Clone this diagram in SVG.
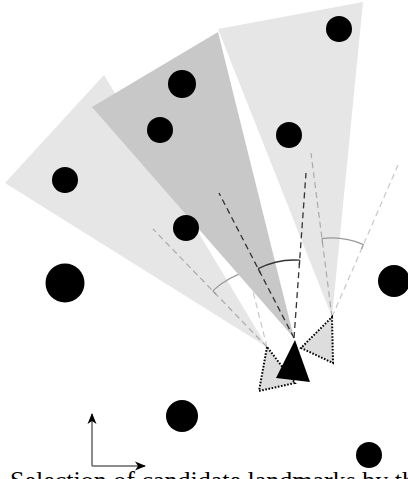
<svg xmlns="http://www.w3.org/2000/svg" width="408" height="479" viewBox="0 0 408 479">
<style>
.cone-l{fill:#e6e6e6}
.cone-d{fill:#c8c8c8}
.dot{fill:#000}
.dash-dark{stroke:#333;stroke-width:1.3;stroke-dasharray:6,4;fill:none}
.dash-mid{stroke:#aaa;stroke-width:1.2;stroke-dasharray:6,4;fill:none}
.dash-light{stroke:#c8c8c8;stroke-width:1.2;stroke-dasharray:6,4;fill:none}
.arc-dark{stroke:#333;stroke-width:1.3;fill:none}
.arc-mid{stroke:#999;stroke-width:1.2;fill:none}
.ghost{fill:#ddd;stroke:#000;stroke-width:2;stroke-dasharray:1.6,1.6}
.axis{stroke:#666;stroke-width:1.5;fill:none}
.caption{font-family:"Liberation Serif","Times New Roman",serif;font-size:26px;fill:#000}
</style>
<defs>
<marker id="tickd" markerWidth="10" markerHeight="10" refX="0" refY="0" viewBox="-5 -5 10 10" orient="auto" markerUnits="userSpaceOnUse"><path d="M0,0 L0,5" stroke="#333" stroke-width="1.3"/></marker>
<marker id="tickm" markerWidth="10" markerHeight="10" refX="0" refY="0" viewBox="-5 -5 10 10" orient="auto" markerUnits="userSpaceOnUse"><path d="M0,0 L0,5" stroke="#999" stroke-width="1.2"/></marker>
<marker id="arrow" markerWidth="12" markerHeight="10" refX="10" refY="0" viewBox="0 -5 12 10" orient="auto" markerUnits="userSpaceOnUse"><path d="M0,-4.5 L11,0 L0,4.5 L3,0 Z" fill="#000"/></marker>
</defs>

<g id="cone-left"><polygon class="cone-l" points="5,183 104,75 267,347"/></g>
<g id="annot-left">
<line class="dash-mid" x1="267" y1="347" x2="153" y2="229"/>
<line class="dash-light" x1="267" y1="347" x2="240" y2="240"/>
<path class="arc-mid" marker-start="url(#tickm)" d="M212.8,290.9 A78,78 0 0 1 248,271.3"/>
</g>
<g id="cone-main"><polygon class="cone-d" points="92,107 218,32 294,338"/></g>
<g id="cone-right"><polygon class="cone-l" points="218,29 363,2 332,317"/></g>

<g id="connectors">
<line class="dash-mid" x1="332" y1="317" x2="311" y2="153"/>
<line class="dash-light" x1="332" y1="317" x2="398" y2="165"/>
<path class="arc-mid" marker-start="url(#tickm)" marker-end="url(#tickm)" d="M322,238.6 A79,79 0 0 1 363.4,244.6"/>
<line class="dash-dark" x1="294" y1="338" x2="219" y2="193"/>
<line class="dash-dark" x1="294" y1="338" x2="306" y2="173"/>
<path class="arc-dark" marker-start="url(#tickd)" marker-end="url(#tickd)" d="M258.2,268.7 A78,78 0 0 1 299.7,260.2"/>
</g>

<g id="landmarks">
<circle class="dot" cx="339" cy="29" r="13"/>
<circle class="dot" cx="182" cy="84" r="14"/>
<circle class="dot" cx="160" cy="130" r="13"/>
<circle class="dot" cx="289" cy="135" r="13"/>
<circle class="dot" cx="65" cy="180" r="13"/>
<circle class="dot" cx="186" cy="228" r="13"/>
<circle class="dot" cx="65" cy="283" r="19.5"/>
<circle class="dot" cx="394" cy="281" r="16"/>
<circle class="dot" cx="182" cy="416" r="16"/>
<circle class="dot" cx="369" cy="455" r="13"/>
</g>

<g id="robot-ghost-left"><polygon class="ghost" points="267,347 259,391 295,383"/></g>
<g id="robot-ghost-right"><polygon class="ghost" points="332,317 333,363 301,348"/></g>
<g id="robot-main"><polygon fill="#000" points="295,340 276,378 310,382"/></g>

<g id="axes">
<path class="axis" d="M92,466 L92,414" marker-end="url(#arrow)"/>
<path class="axis" d="M92,466 L145,466" marker-end="url(#arrow)"/>
</g>

<text class="caption" x="10" y="489">Selection of candidate landmarks by the robot for</text>
</svg>
